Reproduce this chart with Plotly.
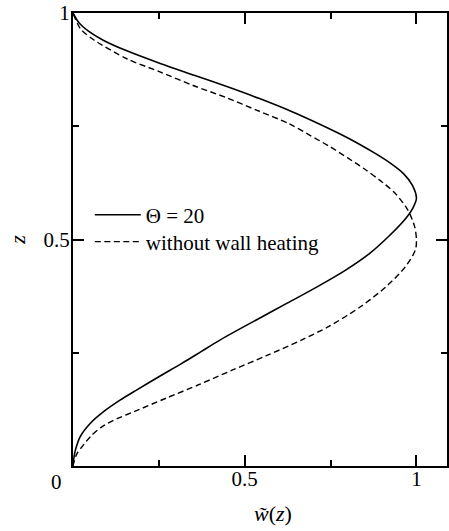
import plotly.graph_objects as go

# Θ = 20 (solid)
z_heated = [0.0, 0.015, 0.035, 0.065, 0.094, 0.120, 0.146, 0.168, 0.197, 0.227, 0.253, 0.279,
            0.323, 0.360, 0.396, 0.433, 0.470, 0.506, 0.543, 0.570, 0.591, 0.620, 0.645,
            0.668, 0.690, 0.712, 0.735, 0.760, 0.782, 0.811, 0.837, 0.862, 0.888, 0.917,
            0.940, 0.960, 0.978, 1.0]
w_heated = [0.0, 0.002, 0.007, 0.021, 0.050, 0.089, 0.138, 0.186, 0.250, 0.318, 0.374, 0.430,
            0.535, 0.625, 0.712, 0.795, 0.865, 0.918, 0.965, 0.990, 1.000, 0.988, 0.963,
            0.925, 0.880, 0.830, 0.772, 0.703, 0.638, 0.543, 0.450, 0.355, 0.256, 0.155,
            0.088, 0.045, 0.018, 0.0]

# without wall heating (dashed)
z_plain = [0.0, 0.012, 0.028, 0.046, 0.066, 0.087, 0.105, 0.120, 0.150, 0.180, 0.212, 0.244,
           0.279, 0.308, 0.352, 0.396, 0.440, 0.477, 0.499, 0.528, 0.565, 0.602, 0.631,
           0.655, 0.680, 0.705, 0.730, 0.756, 0.785, 0.813, 0.840, 0.870, 0.899, 0.941,
           0.965, 1.0]
w_plain = [0.0, 0.004, 0.012, 0.030, 0.052, 0.085, 0.130, 0.178, 0.272, 0.368, 0.465, 0.565,
           0.668, 0.745, 0.838, 0.912, 0.968, 0.997, 1.000, 0.995, 0.975, 0.938, 0.893,
           0.850, 0.800, 0.748, 0.690, 0.628, 0.536, 0.447, 0.350, 0.253, 0.157, 0.060,
           0.022, 0.0]

tick_vals = [0, 0.5, 1]
tick_text = ["", "0.5", "1"]
minor_vals = [0.25, 0.75]

FONT = "Liberation Serif"

fig = go.Figure()
fig.add_trace(go.Scatter(x=w_heated, y=z_heated, mode="lines", name="Θ = 20", legend="legend",
                         line=dict(color="black", width=1.6, shape="spline", smoothing=0.8)))
fig.add_trace(go.Scatter(x=w_plain, y=z_plain, mode="lines", name="without wall heating",
                         legend="legend2",
                         line=dict(color="black", width=1.4, dash="6px,3.5px",
                                   shape="spline", smoothing=0.8)))

axis_common = dict(
    showgrid=False, zeroline=False, showline=True, linewidth=2, linecolor="black",
    mirror="ticks", ticks="inside", ticklen=11, tickwidth=2, tickcolor="black",
    tickvals=tick_vals, ticktext=tick_text,
    tickfont=dict(family=FONT, size=21, color="black"),
    minor=dict(tickvals=minor_vals, ticks="inside", ticklen=6, tickwidth=2,
               tickcolor="black", showgrid=False),
)

legend_common = dict(x=0.045, xanchor="left", yanchor="middle",
                     font=dict(family=FONT, size=21, color="black"),
                     bgcolor="rgba(0,0,0,0)", itemwidth=46)

fig.update_layout(
    width=449, height=531,
    margin=dict(l=73, r=0, t=13, b=65),
    paper_bgcolor="white", plot_bgcolor="white",
    showlegend=True,
    legend=dict(y=0.554, **legend_common),
    legend2=dict(y=0.4945, **legend_common),
    xaxis=dict(range=[0, 1.089], ticklabelstandoff=-7, **axis_common),
    yaxis=dict(range=[0, 1], ticklabelstandoff=-3,
               title=dict(text="<i>z</i>", font=dict(family=FONT, size=22, color="black"),
                          standoff=12),
               **axis_common),
    annotations=[
        dict(text="0", xref="paper", yref="paper", x=0, y=0, showarrow=False,
             xanchor="center", yanchor="middle", xshift=-17, yshift=-16,
             font=dict(family=FONT, size=21, color="black")),
        dict(text="<i>w\u0303</i>(<i>z</i>)", xref="paper", yref="paper", x=0.535, y=0,
             showarrow=False, xanchor="center", yanchor="middle", yshift=-47,
             font=dict(family=FONT, size=22, color="black")),
    ],
)

fig.write_html("out.html")
